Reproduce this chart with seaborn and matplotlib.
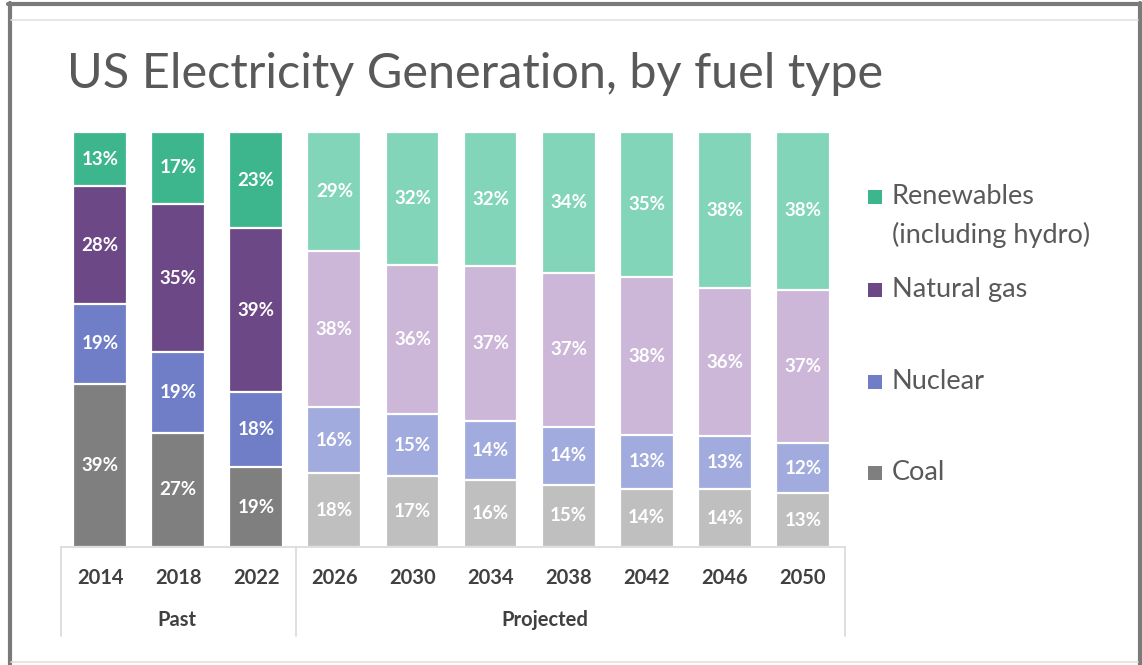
import numpy as np
import pandas as pd
import matplotlib
matplotlib.use("Agg")
import matplotlib.pyplot as plt
from matplotlib.patches import Rectangle
from matplotlib.lines import Line2D
import seaborn as sns

# ---- data ----
years = ["2014", "2018", "2022", "2026", "2030", "2034", "2038", "2042", "2046", "2050"]
period = ["Past", "Past", "Past", "Projected", "Projected", "Projected",
          "Projected", "Projected", "Projected", "Projected"]
coal = [39, 27, 19, 18, 17, 16, 15, 14, 14, 13]
nuclear = [19, 19, 18, 16, 15, 14, 14, 13, 13, 12]
natural_gas = [28, 35, 39, 38, 36, 37, 37, 38, 36, 37]
renewables = [13, 17, 23, 29, 32, 32, 34, 35, 38, 38]
series_names = ["Coal", "Nuclear", "Natural gas", "Renewables"]
legend_labels = ["Renewables", "Natural gas", "Nuclear", "Coal"]
legend_sub = "(including hydro)"

# ---- styles ----
past_colors = {"Coal": "#7F7F7F", "Nuclear": "#6F7EC7", "Natural gas": "#6D4886", "Renewables": "#3DB68E"}
proj_colors = {"Coal": "#BFBFBF", "Nuclear": "#A2ABDD", "Natural gas": "#CCB7D8", "Renewables": "#82D5B8"}
text_gray = "#595959"
dark_gray = "#404040"
line_gray = "#D9D9D9"

W, H = 1142, 665
sns.set_theme(style="white")
plt.rcParams["font.family"] = ["Lato", "DejaVu Sans"]

fig = plt.figure(figsize=(W / 100, H / 100), dpi=100)
fig.patch.set_facecolor("white")

def fx(px):
    return px / W

def fy(py):
    return 1 - py / H

ax = fig.add_axes([fx(61), fy(547), fx(842) - fx(61), fy(132) - fy(547)])

df = pd.DataFrame({"year": years, "period": period, "Coal": coal, "Nuclear": nuclear,
                   "Natural gas": natural_gas, "Renewables": renewables})
total = df[series_names].sum(axis=1)
shares = df[series_names].div(total, axis=0)
cum = shares.cumsum(axis=1)

# draw cumulative bars, tallest first so each overlaps the previous
for name in reversed(series_names):
    pal = [past_colors[name] if p == "Past" else proj_colors[name] for p in period]
    d = pd.DataFrame({"year": years, "top": cum[name].values})
    sns.barplot(data=d, x="year", y="top", hue="year", palette=pal, legend=False,
                width=0.69, edgecolor="white", linewidth=1.6, saturation=1, ax=ax)

# value labels
for i in range(len(years)):
    bottom = 0.0
    for name in series_names:
        h = shares.loc[i, name]
        ax.text(i, bottom + h / 2, f"{df.loc[i, name]}%", ha="center", va="center",
                color="white", fontsize=13.5, fontweight="bold")
        bottom += h

ax.set_xlim(-0.5, 9.5)
ax.set_ylim(0, 1)
ax.set_yticks([])
ax.set_xlabel("")
ax.set_ylabel("")
for s in ax.spines.values():
    s.set_visible(False)
ax.tick_params(axis="x", length=0, pad=15, labelsize=14.5, labelcolor=dark_gray)
for lab in ax.get_xticklabels():
    lab.set_fontweight("bold")

# category box lines
fig.lines.append(Line2D([fx(61), fx(845)], [fy(547), fy(547)], transform=fig.transFigure,
                        color=line_gray, lw=1.2))
for xp in (61, 296, 845):
    fig.lines.append(Line2D([fx(xp), fx(xp)], [fy(547), fy(636)], transform=fig.transFigure,
                            color=line_gray, lw=1.2))

fig.text(fx(177), fy(620), "Past", ha="center", va="center", fontsize=14.5,
         fontweight="bold", color=dark_gray)
fig.text(fx(545), fy(620), "Projected", ha="center", va="center", fontsize=14.5,
         fontweight="bold", color=dark_gray)

# title
fig.text(fx(67), fy(74), "US Electricity Generation, by fuel type", ha="left", va="center",
         fontsize=35, color=text_gray)

# legend
leg_colors = [past_colors["Renewables"], past_colors["Natural gas"],
              past_colors["Nuclear"], past_colors["Coal"]]
leg_y = [197, 290, 382, 473]
for lab, c, yy in zip(legend_labels, leg_colors, leg_y):
    fig.patches.append(Rectangle((fx(868), fy(yy + 7)), fx(14), 14 / H,
                                 transform=fig.transFigure, facecolor=c, edgecolor="none"))
    fig.text(fx(892), fy(yy), lab, ha="left", va="center", fontsize=19.5, color=text_gray)
fig.text(fx(892), fy(235), legend_sub, ha="left", va="center", fontsize=19.5, color=text_gray)

# frame
fig.lines.append(Line2D([fx(9.5), fx(9.5)], [fy(3), fy(665)], transform=fig.transFigure,
                        color="#7A7A7A", lw=3))
fig.lines.append(Line2D([fx(1139.5), fx(1139.5)], [fy(3), fy(665)], transform=fig.transFigure,
                        color="#7A7A7A", lw=3))
fig.lines.append(Line2D([fx(8), fx(1141)], [fy(3.5), fy(3.5)], transform=fig.transFigure,
                        color="#7A7A7A", lw=3))
fig.lines.append(Line2D([fx(11), fx(1138)], [fy(19.5), fy(19.5)], transform=fig.transFigure,
                        color="#E0E0E0", lw=1.2))
fig.lines.append(Line2D([fx(11), fx(1138)], [fy(661.5), fy(661.5)], transform=fig.transFigure,
                        color="#E0E0E0", lw=1.2))

fig.savefig("out.png", dpi=100, facecolor="white")
